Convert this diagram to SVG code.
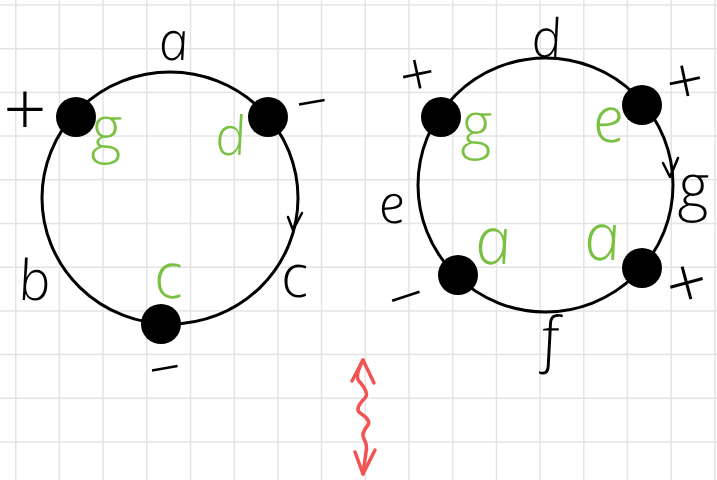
<svg xmlns="http://www.w3.org/2000/svg" width="717" height="480" viewBox="0 0 717 480">
<defs>
<style>
.grid line{stroke:#e4e4e4;stroke-width:1.5}
.ring{fill:none;stroke:#000;stroke-width:3}
.node{fill:#000}
.lbl{font-family:"Open Sans","DejaVu Sans",sans-serif;font-style:italic;font-weight:300;text-anchor:middle}
.blk{fill:#000}
.grn{fill:#7ac143}
.sign{font-family:"Open Sans","DejaVu Sans",sans-serif;font-weight:300;text-anchor:middle;fill:#000}
.arr{fill:none;stroke:#000;stroke-width:2.5;stroke-linecap:round;stroke-linejoin:round}
.red{fill:none;stroke:#f25454;stroke-width:3.5;stroke-linecap:round;stroke-linejoin:round}
</style>
</defs>
<rect width="717" height="480" fill="#fff"/>
<g class="grid">
<line x1="15.7" y1="0" x2="15.7" y2="480"/><line x1="59.4" y1="0" x2="59.4" y2="480"/><line x1="103.1" y1="0" x2="103.1" y2="480"/><line x1="146.8" y1="0" x2="146.8" y2="480"/><line x1="190.5" y1="0" x2="190.5" y2="480"/><line x1="234.2" y1="0" x2="234.2" y2="480"/><line x1="277.9" y1="0" x2="277.9" y2="480"/><line x1="321.6" y1="0" x2="321.6" y2="480"/><line x1="365.3" y1="0" x2="365.3" y2="480"/><line x1="409" y1="0" x2="409" y2="480"/><line x1="452.7" y1="0" x2="452.7" y2="480"/><line x1="496.4" y1="0" x2="496.4" y2="480"/><line x1="540.1" y1="0" x2="540.1" y2="480"/><line x1="583.8" y1="0" x2="583.8" y2="480"/><line x1="627.5" y1="0" x2="627.5" y2="480"/><line x1="671.2" y1="0" x2="671.2" y2="480"/><line x1="714.9" y1="0" x2="714.9" y2="480"/>
<line x1="0" y1="5" x2="717" y2="5"/><line x1="0" y1="48.7" x2="717" y2="48.7"/><line x1="0" y1="92.4" x2="717" y2="92.4"/><line x1="0" y1="136.1" x2="717" y2="136.1"/><line x1="0" y1="179.8" x2="717" y2="179.8"/><line x1="0" y1="223.5" x2="717" y2="223.5"/><line x1="0" y1="267.2" x2="717" y2="267.2"/><line x1="0" y1="310.9" x2="717" y2="310.9"/><line x1="0" y1="354.6" x2="717" y2="354.6"/><line x1="0" y1="398.3" x2="717" y2="398.3"/><line x1="0" y1="442" x2="717" y2="442"/>
</g>
<g id="connectors">
<ellipse class="ring" cx="170" cy="198" rx="128" ry="126"/>
<polyline class="arr" points="288,217 293,230 302,213"/>
<ellipse class="ring" cx="545.5" cy="185" rx="127.5" ry="127"/>
<polyline class="arr" points="663,163 670,177 678,158"/>
<path class="red" d="M363,360 C357,372 356,378 359,381 C366,389 368,395 365,398 C358,405 356,410 360,413 C368,418 370,422 368,425 C362,432 362,436 364,439 C367,444 367,448 366,452 L363,474"/>
<polyline class="red" points="352,381 363,360 374,383"/>
<polyline class="red" points="355,452 363,474 375,450"/>
</g>
<g id="node-l1"><circle class="node" cx="76" cy="117" r="20"/></g>
<g id="node-l2"><circle class="node" cx="268" cy="117" r="20"/></g>
<g id="node-l3"><circle class="node" cx="161" cy="324" r="20"/></g>
<g id="node-r1"><circle class="node" cx="441" cy="117" r="20"/></g>
<g id="node-r2"><circle class="node" cx="642" cy="105" r="20"/></g>
<g id="node-r3"><circle class="node" cx="458" cy="275" r="20"/></g>
<g id="node-r4"><circle class="node" cx="642" cy="268" r="20"/></g>
<g id="labels">
<text class="lbl blk" transform="translate(176 60) skewX(9)" font-size="54">a</text>
<text class="lbl grn" transform="translate(109 150) skewX(9)" font-size="62">g</text>
<text class="lbl grn" transform="translate(233 155) skewX(9)" font-size="54">d</text>
<text class="lbl blk" transform="translate(37 300) skewX(9)" font-size="56">b</text>
<text class="lbl grn" transform="translate(171 298) skewX(9)" font-size="64">c</text>
<text class="lbl blk" transform="translate(297 297) skewX(9)" font-size="60">c</text>
<text class="sign" x="25" y="136" font-size="76">+</text>
<text class="sign" x="312" y="122" font-size="56" transform="rotate(-10 312 104)">−</text>
<text class="sign" x="165" y="388" font-size="56" transform="rotate(-10 165 370)">−</text>
<text class="lbl blk" transform="translate(549 57) skewX(9)" font-size="53">d</text>
<text class="lbl grn" transform="translate(479 146) skewX(9)" font-size="62">g</text>
<text class="lbl grn" transform="translate(611 142) skewX(9)" font-size="64">e</text>
<text class="lbl blk" transform="translate(696 208) skewX(9)" font-size="62">g</text>
<text class="lbl blk" transform="translate(394 223) skewX(9)" font-size="54">e</text>
<text class="lbl grn" transform="translate(496 264) skewX(9)" font-size="66">a</text>
<text class="lbl grn" transform="translate(605 260) skewX(9)" font-size="66">a</text>
<text class="lbl blk" transform="translate(553 360) skewX(9)" font-size="60">f</text>
<text class="sign" x="418" y="96" font-size="62" transform="rotate(-12 418 78)">+</text>
<text class="sign" x="686" y="104" font-size="66" transform="rotate(-12 686 86)">+</text>
<text class="sign" x="407" y="318" font-size="62" transform="rotate(-18 407 300)">−</text>
<text class="sign" x="688" y="308" font-size="72" transform="rotate(-15 688 288)">+</text>
</g>
</svg>
